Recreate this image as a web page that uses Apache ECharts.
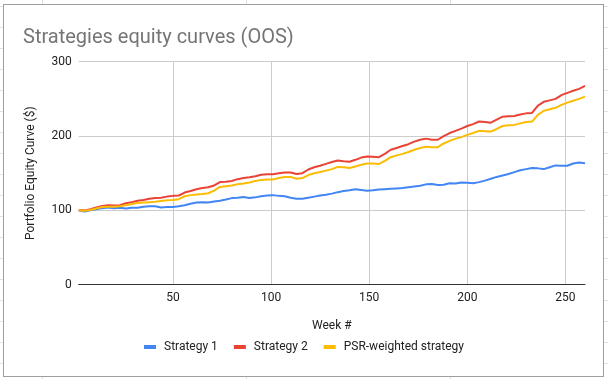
<!DOCTYPE html>
<html>
<head>
<meta charset="utf-8">
<script src="https://cdn.jsdelivr.net/npm/echarts@6.0.0/dist/echarts.min.js"></script>
<style>
  html, body { margin: 0; padding: 0; background: #fff; }
  #bg { position: absolute; left: 0; top: 0; width: 608px; height: 379px; overflow: hidden; }
  .vl { position: absolute; top: 0; width: 1px; height: 379px; background: #e2e2e2; }
  .hl { position: absolute; left: 0; height: 1px; width: 608px; background: #e2e2e2; }
  #card { position: absolute; left: 3px; top: 4px; width: 599px; height: 371px; border: 1px solid #9e9e9e; background: #fff; }
  #chart { position: absolute; left: 0; top: 0; width: 608px; height: 379px; }
</style>
</head>
<body>
<div id="bg"></div>
<div id="card"></div>
<div id="chart"></div>
<script>
// ---- data ----
const weeks = [2,5,8,11,14,17,20,23,26,29,32,35,38,41,44,47,50,53,56,59,62,65,68,71,74,77,80,83,86,89,92,95,98,101,104,107,110,113,116,119,122,125,128,131,134,137,140,143,146,149,152,155,158,161,164,167,170,173,176,179,182,185,188,191,194,197,200,203,206,209,212,215,218,221,224,227,230,233,236,239,242,245,248,251,254,257,260];

const strategy1 = [100,98.5,100,101.5,103,104,103,103.5,102.5,103.5,103.5,105,105.5,105.5,104,104.5,104.5,105.5,107,109,110.5,111,110.5,112,113,114.5,116.5,117,118,116.5,117.5,119,120,120.5,119.5,119,117,115.5,115.5,117,118.5,120,121,122.5,124.5,126,127,128.5,127.5,126.5,127,128,128.5,129,129.5,130,131,132,133,135,135.5,134,134.5,136.5,136,137.5,137,136.5,138,140,142.5,145,147,149,151.5,154,155.5,157,156.5,155.5,158,160.5,160,160,163,164.5,163.5];

const strategy2 = [100,100,101.5,104,106,107,106.5,107,109.5,111,113,114,115.5,116.5,117,118.5,119.5,120,124,126,128.5,130,131,133.5,138,138.5,139.5,142,143.5,144.5,146,148,148.5,148.5,150,151,151,149,150,155,158,160,162.5,165,167,166,165.5,168,171,172.5,172,171.5,176,181.5,184,186.5,189,192.5,195,196.5,195,195,200,204,207,210,213.5,216,219.5,219,218,222,226,226.5,227,229,230.5,231,241,246,248,250,255,258,261,263.5,267.5];

const psrWeighted = [100,99.5,100.5,102.5,104.5,105,105,105.5,107,108.5,110,110.5,111,111.5,112.5,113.5,114,115,119,120.5,121.5,122,123,126.5,131.5,132.5,133.5,135,136,137.5,139.5,141,141.5,141.5,143.5,145,145,142.5,143.5,147.5,150,151.5,153.5,155.5,158.5,158,157,159,161.5,163,163,162.5,166.5,171.5,174,176,178.5,181.5,184,185.5,185,185,190,193.5,196.5,198.5,201.5,204,207,206.5,206,209.5,213.5,214.5,215,217,219,219.5,228.5,234,236,238,242,245,247.5,250,253];

const seriesNames = ['Strategy 1', 'Strategy 2', 'PSR-weighted strategy'];
const xTicks = [50, 100, 150, 200, 250];
const yTicks = [0, 100, 200, 300];

// ---- background spreadsheet grid ----
const bg = document.getElementById('bg');
[42, 246, 450].forEach(x => { const d = document.createElement('div'); d.className = 'vl'; d.style.left = x + 'px'; bg.appendChild(d); });
for (let y = 6; y < 379; y += 21) { const d = document.createElement('div'); d.className = 'hl'; d.style.top = y + 'px'; bg.appendChild(d); }

// ---- chart ----
const pair = arr => weeks.map((w, i) => [w, arr[i]]);
const colors = ['#4285f4', '#ea4335', '#fbbc04'];
const font = 'Roboto, Arial, sans-serif';

const chart = echarts.init(document.getElementById('chart'), null, { renderer: 'canvas' });
chart.setOption({
  animation: false,
  backgroundColor: 'transparent',
  color: colors,
  title: {
    text: 'Strategies equity curves (OOS)',
    left: 18, top: 23,
    textStyle: { fontFamily: font, fontSize: 20, fontWeight: 'normal', color: '#757575' }
  },
  grid: { left: 78.7, right: 23, top: 61.7, bottom: 94.3, containLabel: false },
  legend: {
    bottom: 21, left: 'center',
    icon: 'rect', itemWidth: 12, itemHeight: 4, itemGap: 16,
    textStyle: { fontFamily: font, fontSize: 12, color: '#222', padding: [0, 0, 0, 3] },
    data: seriesNames
  },
  xAxis: {
    type: 'value', min: weeks[0], max: weeks[weeks.length - 1],
    name: 'Week #', nameLocation: 'middle', nameGap: 35,
    nameTextStyle: { fontFamily: font, fontSize: 12, color: '#222' },
    axisLine: { show: true, onZero: false, lineStyle: { color: '#333', width: 1 } },
    axisTick: { show: false, customValues: xTicks },
    axisLabel: { customValues: xTicks, fontFamily: font, fontSize: 12, color: '#222', margin: 7 },
    splitLine: { show: true, lineStyle: { color: '#cccccc', width: 1 } }
  },
  yAxis: {
    type: 'value', min: yTicks[0], max: yTicks[yTicks.length - 1], interval: 100,
    name: 'Portfolio Equity Curve ($)', nameLocation: 'middle', nameGap: 42,
    nameTextStyle: { fontFamily: font, fontSize: 12, color: '#222' },
    axisLine: { show: false }, axisTick: { show: false },
    axisLabel: { fontFamily: font, fontSize: 12, color: '#222', margin: 7 },
    splitLine: { show: true, lineStyle: { color: '#cccccc', width: 1 } }
  },
  series: [
    { name: seriesNames[0], type: 'line', data: pair(strategy1), showSymbol: false, lineStyle: { width: 2 }, z: 3 },
    { name: seriesNames[1], type: 'line', data: pair(strategy2), showSymbol: false, lineStyle: { width: 2 }, z: 3 },
    { name: seriesNames[2], type: 'line', data: pair(psrWeighted), showSymbol: false, lineStyle: { width: 2 }, z: 4 }
  ]
});
</script>
</body>
</html>
